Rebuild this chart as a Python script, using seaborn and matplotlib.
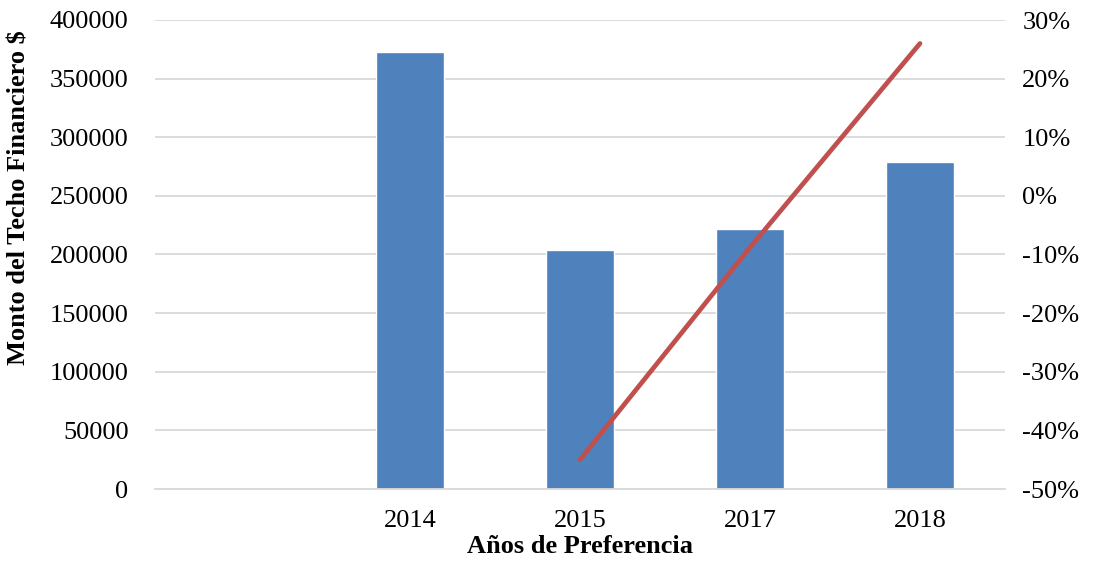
import matplotlib
matplotlib.use("Agg")
import matplotlib.pyplot as plt
import seaborn as sns
import pandas as pd
import numpy as np
from matplotlib.ticker import FuncFormatter, MultipleLocator

categories = ["", "2014", "2015", "2017", "2018"]
bar_years = ["2014", "2015", "2017", "2018"]
bar_values = [372500, 204000, 221800, 278800]
line_years = ["2015", "2017", "2018"]
line_values = [-0.45, -0.088, 0.26]

sns.set_theme(style="white")
plt.rcParams['font.family'] = ['Liberation Serif', 'DejaVu Serif']

fig = plt.figure(figsize=(10.94, 5.61), dpi=100)
ax = fig.add_axes([155/1094, 1-489/561, 850/1094, 469/561])

df = pd.DataFrame({"year": bar_years, "value": bar_values})
sns.barplot(data=df, x="year", y="value", order=categories, color="#4F81BD",
            saturation=1, width=0.4, ax=ax, zorder=2)

ax.set_ylim(0, 400000)
ax.set_xlim(-0.5, len(categories) - 0.5)
ax.yaxis.set_major_locator(MultipleLocator(50000))
ax.grid(axis="y", color="#D9D9D9", linewidth=1.3, zorder=0)
ax.set_axisbelow(True)
for s in ["top", "right", "left"]:
    ax.spines[s].set_visible(False)
ax.spines["bottom"].set_color("#D9D9D9")
ax.spines["bottom"].set_linewidth(1.3)
ax.tick_params(axis="both", length=0, labelsize=19, colors="black")
ax.tick_params(axis="y", pad=19)
ax.tick_params(axis="x", pad=15)
ax.set_xlabel("Años de Preferencia", fontsize=19, fontweight="bold",
              labelpad=2, color="black")
ax.set_ylabel("Monto del Techo Financiero $", fontsize=19, fontweight="bold",
              color="black")
ax.yaxis.set_label_coords(-0.146, 0.622)

ax2 = ax.twinx()
lx = [categories.index(y) for y in line_years]
sns.lineplot(x=lx, y=line_values, color="#C0504D", linewidth=3.4, ax=ax2,
             solid_capstyle="round")
ax2.set_ylim(-0.5, 0.3)
ax2.yaxis.set_major_locator(MultipleLocator(0.1))
ax2.yaxis.set_major_formatter(FuncFormatter(lambda v, p: f"{v*100:.0f}%"))
ax2.tick_params(axis="y", length=0, labelsize=19, pad=12.5, colors="black")
for s in ax2.spines.values():
    s.set_visible(False)
ax2.grid(False)
ax2.set_xlim(-0.5, len(categories) - 0.5)

fig.savefig("out.png", dpi=100)
